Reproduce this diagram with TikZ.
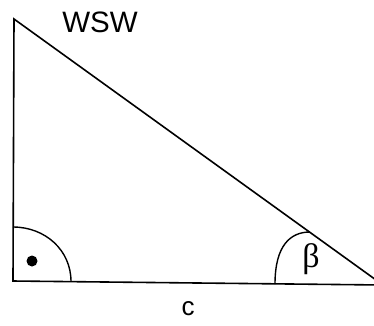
\documentclass[tikz,border=0pt]{standalone}
\usepackage{fontspec}
\setmainfont{Liberation Sans}
\newfontfamily\serifb{Liberation Serif}
\begin{document}
\begin{tikzpicture}[x=1pt,y=-1pt,
  edge/.style={line width=1.6pt,line cap=round,line join=miter},
  arcline/.style={line width=1.4pt},
  lbl/.style={inner sep=0pt,anchor=center}]
\useasboundingbox (0,0) rectangle (374,325);
\clip (0,0) rectangle (374,325);
\coordinate (A) at (14,19);
\coordinate (B) at (13,281);
\coordinate (C) at (383,285);
\draw[edge] (A) -- (B) -- (C) -- cycle;
% right angle mark
\coordinate (R1) at (13,227);
\coordinate (R2) at (71,281.5);
\draw[arcline] (R1) .. controls (45,227) and (71,250) .. (R2);
\fill (32,261) circle (5.5);
% beta arc
\coordinate (S1) at (275,284);
\coordinate (S2) at (310,232);
\draw[arcline] (S1) .. controls (275,246) and (290,232) .. (S2);
\node[lbl,font=\serifb\fontsize{34}{34}\selectfont] (beta) at (311,259) {β};
\node[lbl,font=\fontsize{29.5}{30}\selectfont] (wsw) at (100,22) {WSW};
\node[lbl,font=\fontsize{26}{26}\selectfont] (c) at (188,309) {c};
\end{tikzpicture}
\end{document}
